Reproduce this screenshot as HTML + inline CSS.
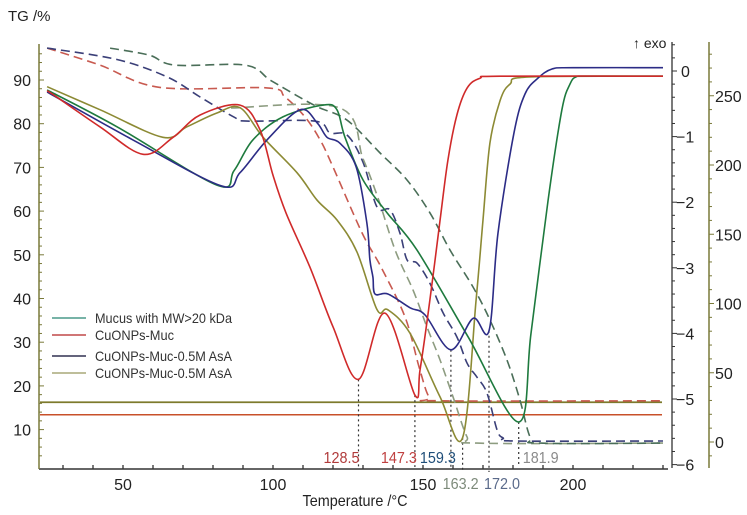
<!DOCTYPE html>
<html><head><meta charset="utf-8">
<style>
html,body{margin:0;padding:0;background:#fff;}
svg{display:block;font-family:"Liberation Sans",Arial,sans-serif;}
</style></head>
<body>
<svg id="chart" width="747" height="515" viewBox="0 0 747 515" xmlns="http://www.w3.org/2000/svg">
<text x="8" y="21" font-size="15" fill="#222">TG /%</text>
<text x="633" y="48" font-size="14" fill="#222">↑ exo</text>
<text x="355" y="506" font-size="16" fill="#222" text-anchor="middle" textLength="105" lengthAdjust="spacingAndGlyphs">Temperature /°C</text>
<g id="axes"></g>
<g id="series"></g>
<g id="legend">
  <line x1="52" y1="318" x2="86" y2="318" stroke="#4a9a8a" stroke-width="1.5"/>
  <text x="95" y="323" font-size="14" fill="#333" textLength="137" lengthAdjust="spacingAndGlyphs">Mucus with MW&gt;20 kDa</text>
  <line x1="52" y1="335" x2="86" y2="335" stroke="#c04848" stroke-width="1.5"/>
  <text x="95" y="340" font-size="14" fill="#333" textLength="79" lengthAdjust="spacingAndGlyphs">CuONPs-Muc</text>
  <line x1="52" y1="356" x2="86" y2="356" stroke="#303050" stroke-width="1.5"/>
  <text x="95" y="361" font-size="14" fill="#333" textLength="137" lengthAdjust="spacingAndGlyphs">CuONPs-Muc-0.5M AsA</text>
  <line x1="52" y1="373" x2="86" y2="373" stroke="#a8a878" stroke-width="1.5"/>
  <text x="95" y="378" font-size="14" fill="#333" textLength="137" lengthAdjust="spacingAndGlyphs">CuONPs-Muc-0.5M AsA</text>
</g>
</svg>
<script>
// ---- data ----
const xTicks = [50, 100, 150, 200];
const tgTicks = [90, 80, 70, 60, 50, 40, 30, 20, 10];
const dscTicks = [0, -1, -2, -3, -4, -5, -6];
const rightTicks = [250, 200, 150, 100, 50, 0];
const peakTemps = [128.5, 147.3, 159.3, 163.2, 172.0, 181.9];
const peakLabels = ["128.5", "147.3", "159.3", "163.2", "172.0", "181.9"];
const peakDsc = [-4.70, -4.94, -4.25, -5.59, -3.96, -5.35];

// DSC curves (solid) : [T, mW]
const dscRed = [[24.7,-0.30],[28,-0.40],[42.3,-0.85],[56.7,-1.27],[66.7,-1.01],[75.7,-0.67],[89,-0.52],[95.7,-0.90],[100,-1.59],[104.3,-2.16],[112.3,-2.99],[120,-3.90],[128.5,-4.70],[137.3,-3.69],[147.3,-4.94],[149,-4.56],[152.3,-3.49],[155.7,-2.27],[158.3,-1.36],[161.3,-0.67],[164.7,-0.26],[169,-0.11],[175.7,-0.08],[230,-0.08]];
const dscOlive = [[24.7,-0.24],[42.3,-0.59],[63.3,-1.01],[71.3,-0.85],[81.3,-0.64],[89,-0.56],[96.7,-1.01],[108,-1.55],[114.7,-1.97],[121.3,-2.27],[128,-2.76],[134.7,-3.64],[138.3,-3.64],[145.7,-4.0],[155.7,-4.97],[163.2,-5.59],[167.7,-3.49],[170,-2.27],[172.3,-1.1],[175.7,-0.45],[179,-0.2],[185.3,-0.09],[230,-0.08]];
const dscGreen = [[24.7,-0.29],[48,-0.85],[81.3,-1.74],[87,-1.52],[93.3,-1.05],[103.3,-0.70],[116.7,-0.52],[121.3,-0.59],[124,-1.01],[130,-1.66],[138,-2.16],[148,-2.73],[165,-4.05],[181.9,-5.35],[186,-4.0],[191.7,-1.97],[196.3,-0.59],[199,-0.2],[201,-0.09],[205,-0.08],[230,-0.08]];
const dscBlue = [[24.7,-0.32],[53.3,-1.05],[82.7,-1.75],[89,-1.55],[98,-1.05],[109,-0.59],[114.7,-0.79],[118,-1.01],[122.3,-1.10],[127.7,-1.46],[131.3,-2.32],[132.3,-2.88],[133.3,-3.14],[134,-3.40],[138.3,-3.40],[145.7,-3.61],[150.7,-3.72],[159.3,-4.25],[166.7,-3.77],[172,-3.96],[175,-2.47],[180.3,-0.95],[184,-0.35],[188.3,-0.11],[193,0.03],[200,0.05],[230,0.05]];

// TG curves (dashed) : [T, %]
const tgRed = [[24.7,97.3],[42.3,93.4],[62.3,88.3],[98,88.2],[104,86.1],[110.7,81.5],[115.7,76.3],[120,70.1],[129.7,55.0],[136,47.2],[144,35.8],[148.7,24.3],[152,17.5],[155.7,16.6],[230,16.6]];
const tgBlue = [[24.7,97.3],[48,94.7],[64.7,90.7],[75.7,86.1],[87,81.5],[91.3,80.6],[114,80.6],[119,77.9],[124.7,77.4],[130,71.2],[134.7,60.9],[139,60.3],[142.3,55.0],[144.7,48.8],[148,48.1],[152.3,43.5],[156.7,36.7],[161.3,31.2],[164.7,25.2],[168,22.0],[171.3,18.4],[174.7,9.9],[176.7,8.1],[180.7,7.4],[230,7.4]];
const tgGrey = [[86,83.6],[122.3,83.6],[130,72],[135,63],[140.7,51.1],[146.7,41.9],[151.3,33.5],[155.7,25.9],[160,17.5],[164.7,8.3],[168,6.9],[230,6.9]];
const tgDarkGreen = [[45.7,97.3],[58.7,95.7],[67.3,93.4],[90.7,93.4],[99,90],[106.7,86.9],[115,83.8],[124.7,80.8],[135.7,73.3],[144.7,67.1],[152.3,59.6],[159,51.1],[166.7,42.6],[172.3,35.1],[178,25.9],[182.3,16.8],[185.7,8.3],[189,6.9],[230,6.9]];

const baseOlive = -5.05;
const baseRed = -5.24;

// ---- scales ----
const xS = t => 123 + (t - 50) * 3;
const tgS = v => 80 + (90 - v) * 4.37;
const dscS = d => 71 - d * 65.6;
const rS = r => 442 - r * 1.385;
const NS = "http://www.w3.org/2000/svg";
const axes = document.getElementById('axes');
const series = document.getElementById('series');
function mk(tag, attrs, parent) {
  const e = document.createElementNS(NS, tag);
  for (const k in attrs) e.setAttribute(k, attrs[k]);
  parent.appendChild(e);
  return e;
}
function smoothPath(pts) {
  let d = `M${pts[0][0].toFixed(1)},${pts[0][1].toFixed(1)}`;
  for (let i = 0; i < pts.length - 1; i++) {
    const p0 = pts[i - 1] || pts[i], p1 = pts[i], p2 = pts[i + 1], p3 = pts[i + 2] || p2;
    const c1x = p1[0] + (p2[0] - p0[0]) / 6, c1y = p1[1] + (p2[1] - p0[1]) / 6;
    const c2x = p2[0] - (p3[0] - p1[0]) / 6, c2y = p2[1] - (p3[1] - p1[1]) / 6;
    d += ` C${c1x.toFixed(1)},${c1y.toFixed(1)} ${c2x.toFixed(1)},${c2y.toFixed(1)} ${p2[0].toFixed(1)},${p2[1].toFixed(1)}`;
  }
  return d;
}

// ---- axes ----
let e;
e = mk('line', {x1:39, y1:469, x2:668, y2:469, stroke:'#333', 'stroke-width':1.5}, axes);


for (let t = 30; t <= 230; t += 10) {
  e = mk('line', {x1:xS(t), y1:469, x2:xS(t), y2:465, stroke:'#333', 'stroke-width':1.3}, axes);
  
  
}
xTicks.forEach(t => {
  e = mk('text', {x:xS(t), y:490, 'font-size':16, 'text-anchor':'middle', fill:'#222'}, axes);
  e.textContent = t;
  
  
});
e = mk('line', {x1:39, y1:44, x2:39, y2:469, stroke:'#7a7a3a', 'stroke-width':1.5}, axes);


for (let v = 4; v <= 96; v += 2) {
  e = mk('line', {x1:39, y1:tgS(v), x2:(v % 10 === 0 ? 44 : 42), y2:tgS(v), stroke:'#7a7a3a', 'stroke-width':1}, axes);
  
  
}
tgTicks.forEach(v => {
  e = mk('text', {x:31, y:tgS(v) + 6, 'font-size':16, 'text-anchor':'end', fill:'#222'}, axes);
  e.textContent = v;
  
  
});
e = mk('line', {x1:672, y1:42, x2:672, y2:468, stroke:'#333', 'stroke-width':1.3}, axes);


for (let d = 0.4; d >= -6.05; d -= 0.2) {
  const maj = Math.abs(d - Math.round(d)) < 0.01;
  e = mk('line', {x1:672, y1:dscS(d), x2:maj ? 677 : 675, y2:dscS(d), stroke:'#333', 'stroke-width':1}, axes);
  
  
}
dscTicks.forEach(d => {
  e = mk('text', {x:d === 0 ? 681 : 676, y:dscS(d) + 6, 'font-size':16, fill:'#222'}, axes);
  e.textContent = d === 0 ? '0' : '\u2212' + Math.abs(d);
  
  
});
e = mk('line', {x1:709, y1:42, x2:709, y2:468, stroke:'#7a7a3a', 'stroke-width':1.5}, axes);


for (let r = -10; r <= 280; r += 10) {
  e = mk('line', {x1:709, y1:rS(r), x2:(r % 50 === 0 ? 714 : 712), y2:rS(r), stroke:'#7a7a3a', 'stroke-width':1}, axes);
  
  
}
rightTicks.forEach(r => {
  e = mk('text', {x:715, y:rS(r) + 6, 'font-size':16, fill:'#222'}, axes);
  e.textContent = r;
  
  
});

// ---- baselines ----
e = mk('line', {x1:40, y1:dscS(baseOlive), x2:662, y2:dscS(baseOlive), stroke:'#7d7a2c', 'stroke-width':1.8}, series);


e = mk('line', {x1:40, y1:dscS(baseRed), x2:662, y2:dscS(baseRed), stroke:'#c8502a', 'stroke-width':1.5}, series);



// ---- peak markers ----
const labelColors = ['#b03a3a', '#c04040', '#1f4e79', '#7d8a7a', '#5a6a8a', '#8a8a8a'];
const labelY = [463, 463, 463, 489, 489, 463];
const labelDx = [-17, -16, -13, -2, 13, 22];
peakTemps.forEach((t, i) => {
  e = mk('line', {x1:xS(t), y1:dscS(peakDsc[i]), x2:xS(t), y2:(labelY[i] > 470 ? 472 : 467), stroke:'#333', 'stroke-width':1.2, 'stroke-dasharray':'2,3'}, series);
  
  
  e = mk('text', {x:xS(t) + labelDx[i], y:labelY[i], 'font-size':16, 'text-anchor':'middle', fill:labelColors[i], textLength:36, lengthAdjust:'spacingAndGlyphs'}, series);
  e.textContent = peakLabels[i];
  
  
});

// ---- TG dashed ----
function tgLine(data, color, name) {
  const pts = data.map(p => [xS(p[0]), tgS(p[1])]);
  const el = mk('path', {d:smoothPath(pts), fill:'none', stroke:color, 'stroke-width':1.6, 'stroke-dasharray':'9,5'}, series);
  
  
}
tgLine(tgRed, '#c85a50', 'tg-curve-cuonps-muc');
tgLine(tgBlue, '#3a3f78', 'tg-curve-asa-1');
tgLine(tgGrey, '#8d9c80', 'tg-curve-asa-2');
tgLine(tgDarkGreen, '#4a6e58', 'tg-curve-mucus');

// ---- DSC solid ----
function dscLine(data, color, name) {
  const pts = data.map(p => [xS(p[0]), dscS(p[1])]);
  const el = mk('path', {d:smoothPath(pts), fill:'none', stroke:color, 'stroke-width':1.6}, series);
  
  
}
dscLine(dscOlive, '#8c8a34', 'dsc-curve-asa-2');
dscLine(dscGreen, '#1e7a3e', 'dsc-curve-mucus');
dscLine(dscBlue, '#2c2c86', 'dsc-curve-asa-1');
dscLine(dscRed, '#d02a2a', 'dsc-curve-cuonps-muc');
</script>
</body></html>
